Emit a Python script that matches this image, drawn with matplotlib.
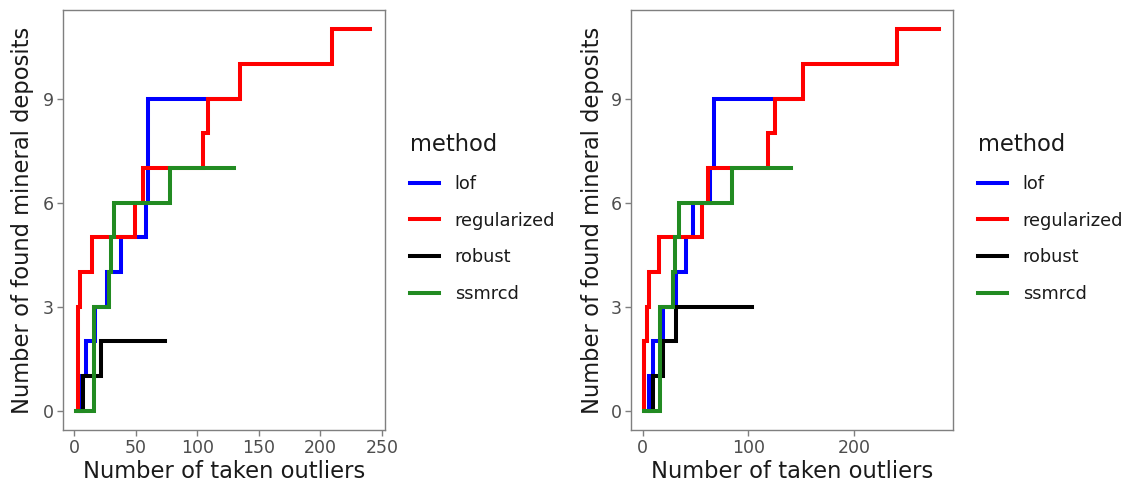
import matplotlib
matplotlib.use("Agg")
import matplotlib.pyplot as plt

plt.rcParams['font.family'] = ['DejaVu Sans']

methods = ["lof", "regularized", "robust", "ssmrcd"]
colors = {"lof": "#0000ff", "regularized": "#ff0000", "robust": "#000000", "ssmrcd": "#228b22"}

# Left panel: step vertices (number of taken outliers, found deposits)
left_lof_x = [3, 5.4, 9.5, 17, 27, 38, 58.5, 60, 131]
left_lof_y = [0, 1, 2, 3, 4, 5, 6, 9, 9]
left_reg_x = [2, 3.2, 4.9, 14.9, 49.5, 56.3, 104.5, 109, 135, 209, 240]
left_reg_y = [0, 3, 4, 5, 6, 7, 8, 9, 10, 11, 11]
left_rob_x = [6, 7.6, 21.7, 73.5]
left_rob_y = [0, 1, 2, 2]
left_ssm_x = [2, 16, 28, 30, 32.2, 77.9, 129.5]
left_ssm_y = [0, 3, 4, 5, 6, 7, 7]

# Right panel
right_lof_x = [4, 6.3, 9.5, 18.9, 31.5, 41, 48, 64, 67.5, 146]
right_lof_y = [0, 1, 2, 3, 4, 5, 6, 7, 9, 9]
right_reg_x = [1, 1.5, 4, 5.5, 15.7, 55.8, 62, 118.8, 125.2, 151.4, 240.3, 280]
right_reg_y = [0, 2, 3, 4, 5, 6, 7, 8, 9, 10, 11, 11]
right_rob_x = [7, 9.5, 18.9, 31.5, 103]
right_rob_y = [0, 1, 2, 3, 3]
right_ssm_x = [1.5, 16.4, 28.5, 30.5, 34.6, 84.2, 140.5]
right_ssm_y = [0, 3, 4, 5, 6, 7, 7]

left_xticks = [0, 50, 100, 150, 200, 250]
right_xticks = [0, 100, 200]
yticks = [0, 3, 6, 9]

W, H = 1129, 484
fig = plt.figure(figsize=(W / 100, H / 100), dpi=100)

panels = [
    dict(rect=(62.7, 10, 385, 430), xlim=(-9.2, 252.4), xticks=left_xticks,
         series=[(left_lof_x, left_lof_y), (left_reg_x, left_reg_y),
                 (left_rob_x, left_rob_y), (left_ssm_x, left_ssm_y)],
         ylab_x=23, leg_x=401),
    dict(rect=(631, 10, 952.7, 430), xlim=(-11.1, 293.3), xticks=right_xticks,
         series=[(right_lof_x, right_lof_y), (right_reg_x, right_reg_y),
                 (right_rob_x, right_rob_y), (right_ssm_x, right_ssm_y)],
         ylab_x=592, leg_x=969),
]

grey_text = "#4d4d4d"
border = "#7f7f7f"
dark = "#1a1a1a"

for p in panels:
    x0, y0, x1, y1 = p["rect"]
    ax = fig.add_axes([x0 / W, 1 - y1 / H, (x1 - x0) / W, (y1 - y0) / H])
    handles = []
    for m, (xs, ys) in zip(methods, p["series"]):
        h, = ax.step(xs, ys, where="post", color=colors[m], lw=2.9,
                     solid_joinstyle="miter", label=m)
        handles.append(h)
    ax.set_xlim(*p["xlim"])
    ax.set_ylim(-0.55, 11.55)
    ax.set_xticks(p["xticks"])
    ax.set_yticks(yticks)
    for s in ax.spines.values():
        s.set_color(border)
        s.set_linewidth(1.0)
    ax.tick_params(axis="both", colors=border, labelcolor=grey_text,
                   labelsize=12.5, length=4.5, width=1.0, pad=2)
    fig.text((x0 + x1) / 2 / W, 1 - 478 / H, "Number of taken outliers",
             ha="center", va="baseline", fontsize=16.3, color=dark)
    fig.text(p["ylab_x"] / W, 1 - 220 / H, "Number of found mineral deposits",
             rotation=90, ha="center", va="center", fontsize=16.3, color=dark)
    leg = ax.legend(handles=handles, loc="upper left",
                    bbox_to_anchor=(p["leg_x"] / W, 1 - 124 / H),
                    bbox_transform=fig.transFigure, frameon=False, borderpad=0,
                    title="method", title_fontsize=16.3, fontsize=12.8,
                    handlelength=1.63, handletextpad=0.9, labelspacing=1.06,
                    alignment="left")
    for t in leg.get_texts():
        t.set_color(dark)
    leg.get_title().set_color(dark)

fig.savefig("out.png", dpi=100)
